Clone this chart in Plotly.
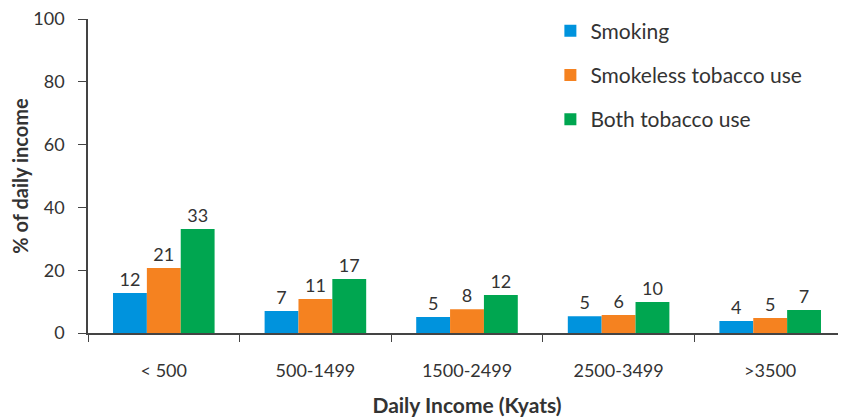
import plotly.graph_objects as go

categories = ["< 500", "500-1499", "1500-2499", "2500-3499", ">3500"]
smoking = [12.7, 7.0, 5.1, 5.3, 3.8]
smokeless = [20.7, 10.8, 7.6, 5.7, 4.8]
both = [33.1, 17.2, 12.1, 9.9, 7.3]
smoking_labels = ["12", "7", "5", "5", "4"]
smokeless_labels = ["21", "11", "8", "6", "5"]
both_labels = ["33", "17", "12", "10", "7"]
y_ticks = [0, 20, 40, 60, 80, 100]

FONT = "Lato"
TXT = "#333333"

series = [
    ("Smoking", smoking, smoking_labels, "#0093DD"),
    ("Smokeless tobacco use", smokeless, smokeless_labels, "#F58220"),
    ("Both tobacco use", both, both_labels, "#00A650"),
]

fig = go.Figure()
for i, (name, vals, labels, color) in enumerate(series):
    fig.add_trace(go.Bar(
        x=categories, y=vals, name=name, marker_color=color,
        marker_line_width=0,
        text=labels, textposition="outside",
        textfont=dict(family=FONT, size=18, color=TXT),
        cliponaxis=False, legendgroup=f"g{i}",
    ))

# page body has an 8px margin: shrink the figure and shift margins accordingly
fig.update_layout(
    width=838, height=410,
    margin=dict(l=80, r=0, t=11, b=85),
    plot_bgcolor="white", paper_bgcolor="white",
    barmode="group", bargap=0.33, bargroupgap=0,
    font=dict(family=FONT, size=18, color=TXT),
    showlegend=True,
    legend=dict(x=0.61, y=1.027, xanchor="left", yanchor="top",
                font=dict(family=FONT, size=21, color=TXT),
                tracegroupgap=14, bgcolor="rgba(0,0,0,0)"),
    xaxis=dict(
        showline=True, linecolor="#444444", linewidth=1.5,
        ticks="outside", tickson="boundaries", ticklen=7, tickcolor="#444444",
        ticklabelstandoff=21,
        tickfont=dict(family=FONT, size=18, color=TXT),
        title=dict(text="<b>Daily Income (Kyats)</b>", standoff=18,
                   font=dict(family=FONT, size=21, color=TXT)),
    ),
    yaxis=dict(
        range=[0, 100], tickvals=y_ticks, showgrid=False, zeroline=False,
        showline=True, linecolor="#444444", linewidth=1.5,
        ticks="outside", ticklen=8, tickcolor="#444444",
        ticklabelstandoff=10, ticklabeloverflow="allow",
        tickfont=dict(family=FONT, size=18, color=TXT),
        title=dict(text="<b>% of daily income</b>", standoff=10,
                   font=dict(family=FONT, size=20, color=TXT)),
    ),
)

fig.write_html("out.html")
